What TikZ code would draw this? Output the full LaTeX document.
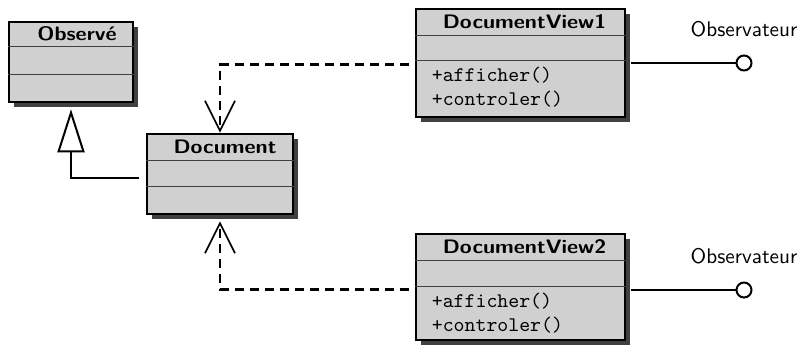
\documentclass[tikz,border=0pt]{standalone}
\usetikzlibrary{arrows.meta,shadows}
\definecolor{boxgray}{RGB}{208,208,208}
\definecolor{shadowgray}{RGB}{64,64,64}
\newcommand\clstitle[1]{\scalebox{2.16}[1.95]{\fontsize{10}{12}\selectfont\sffamily\bfseries #1}}
\newcommand\clsmeth[1]{\scalebox{2.08}{\fontsize{10}{12}\selectfont\ttfamily #1}}
\newcommand\obslabel[1]{\scalebox{2.12}{\fontsize{10}{12}\selectfont\sffamily #1}}
\begin{document}
\begin{tikzpicture}[x=1pt,y=-1pt,
  classbox/.style={rectangle, draw=black, line width=2.6pt, fill=boxgray, inner sep=0pt,
    drop shadow={shadow xshift=5pt, shadow yshift=-5pt, fill=shadowgray, opacity=1}},
  sepline/.style={draw=black!75, line width=1pt},
  titletext/.style={inner sep=0pt},
  methtext/.style={inner sep=0pt, anchor=west},
  obstext/.style={inner sep=0pt},
  genline/.style={line width=2pt, -{Triangle[open, length=43pt, width=27pt, line width=2pt]}},
  depline/.style={line width=2.5pt, dash pattern=on 9pt off 6pt, -{Straight Barb[length=30pt, width=30pt, line width=1.7pt]}},
  lolline/.style={line width=2.4pt},
  lolly/.style={circle, draw=black, line width=2pt, fill=white, minimum size=15pt, inner sep=0pt}
]
\useasboundingbox (0,0) rectangle (802,346);

% Observe
\node[classbox, minimum width=124pt, minimum height=80pt] (obs) at (71,62) {};
\draw[sepline] ([yshift=-26pt]obs.north west) -- ([yshift=-26pt]obs.north east);
\draw[sepline] ([yshift=-54pt]obs.north west) -- ([yshift=-54pt]obs.north east);
\node[titletext] (obst) at ([xshift=6pt, yshift=-13pt]obs.north) {\clstitle{Observé}};

% Document
\node[classbox, minimum width=146pt, minimum height=80pt] (doc) at (220,174) {};
\draw[sepline] ([yshift=-28pt]doc.north west) -- ([yshift=-28pt]doc.north east);
\draw[sepline] ([yshift=-54pt]doc.north west) -- ([yshift=-54pt]doc.north east);
\node[titletext] (doct) at ([xshift=5pt, yshift=-14pt]doc.north) {\clstitle{Document}};

% DocumentView1
\node[classbox, minimum width=209pt, minimum height=108pt] (dv1) at (520.5,63) {};
\draw[sepline] ([yshift=-28pt]dv1.north west) -- ([yshift=-28pt]dv1.north east);
\draw[sepline] ([yshift=-53pt]dv1.north west) -- ([yshift=-53pt]dv1.north east);
\node[titletext] (dv1t) at ([xshift=4pt, yshift=-14pt]dv1.north) {\clstitle{DocumentView1}};
\node[methtext] (dv1a) at ([xshift=17pt, yshift=-67pt]dv1.north west) {\clsmeth{+afficher()}};
\node[methtext] (dv1b) at ([xshift=17pt, yshift=-91pt]dv1.north west) {\clsmeth{+controler()}};

% DocumentView2
\node[classbox, minimum width=209pt, minimum height=106pt] (dv2) at (520.5,287) {};
\draw[sepline] ([yshift=-28pt]dv2.north west) -- ([yshift=-28pt]dv2.north east);
\draw[sepline] ([yshift=-54pt]dv2.north west) -- ([yshift=-54pt]dv2.north east);
\node[titletext] (dv2t) at ([xshift=4pt, yshift=-14pt]dv2.north) {\clstitle{DocumentView2}};
\node[methtext] (dv2a) at ([xshift=17pt, yshift=-68pt]dv2.north west) {\clsmeth{+afficher()}};
\node[methtext] (dv2b) at ([xshift=17pt, yshift=-92pt]dv2.north west) {\clsmeth{+controler()}};

% generalization
\draw[genline, shorten >=6pt] ([xshift=-7pt, yshift=-4pt]doc.west) -| (obs.south);

% dependencies
\draw[depline] ([xshift=-6pt, yshift=-1.5pt]dv1.west) -| (doc.north);
\draw[depline] ([xshift=-6pt, yshift=-2.5pt]dv2.west) -| ([yshift=-6pt]doc.south);

% Observateur lollipops
\node[lolly] (c1) at (744,63) {};
\node[lolly] (c2) at (744,290) {};
\draw[lolline] ([xshift=5pt]dv1.east |- c1) -- (c1.west);
\draw[lolline] ([xshift=5pt]dv2.east |- c2) -- (c2.west);
\node[obstext] (o1) at (744,29) {\obslabel{Observateur}};
\node[obstext] (o2) at (744,256) {\obslabel{Observateur}};
\end{tikzpicture}
\end{document}
